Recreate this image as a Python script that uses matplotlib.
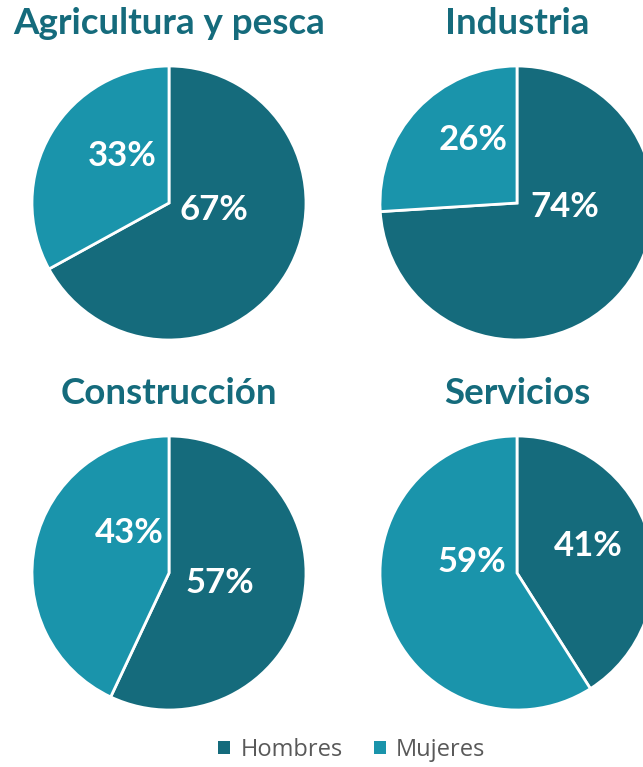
import matplotlib
matplotlib.use("Agg")
import matplotlib.pyplot as plt
from matplotlib.patches import Patch

# Datos
sectores = ["Agricultura y pesca", "Industria", "Construcción", "Servicios"]
hombres = [67, 74, 57, 41]
mujeres = [33, 26, 43, 59]
series = ["Hombres", "Mujeres"]

color_h = "#156B7C"
color_m = "#1A94AB"

W, H = 643, 767
R = 137
centros = [(169, 203), (517, 203), (169, 573), (517, 573)]
titulo_y = [23, 23, 393, 393]
# posición de las etiquetas (fracción del radio) como en el original
pos_etq = [
    [(0.33, -0.05), (-0.34, 0.34)],
    [(0.35, -0.03), (-0.32, 0.46)],
    [(0.37, -0.07), (-0.29, 0.29)],
    [(0.52, 0.20), (-0.33, 0.08)],
]

plt.rcParams['font.family'] = ['Lato', 'DejaVu Sans']
fig = plt.figure(figsize=(W / 100, H / 100), dpi=100)

for i, nombre in enumerate(sectores):
    cx, cy = centros[i]
    ax = fig.add_axes([(cx - R) / W, (H - cy - R) / H, 2 * R / W, 2 * R / H])
    wedges, _ = ax.pie([hombres[i], mujeres[i]], colors=[color_h, color_m],
                       startangle=90, counterclock=False, radius=1,
                       wedgeprops=dict(edgecolor='white', linewidth=2))
    for w in wedges:
        w.set_clip_on(False)
    for j, val in enumerate([hombres[i], mujeres[i]]):
        px, py = pos_etq[i][j]
        ax.text(px, py, f"{val}%", ha='center', va='center', color='white',
                fontsize=25, fontweight='bold')
    ax.set_xlim(-1, 1)
    ax.set_ylim(-1, 1)
    ax.set_aspect('equal')
    ax.axis('off')
    fig.text(cx / W, 1 - titulo_y[i] / H, nombre, ha='center', va='center',
             fontsize=26.5, fontweight='bold', color=color_h)

handles = [Patch(facecolor=color_h, label=series[0]),
           Patch(facecolor=color_m, label=series[1])]
fig.legend(handles=handles, loc='center', bbox_to_anchor=(352 / W, 1 - 750 / H),
           ncol=2, frameon=False, handlelength=0.5, handleheight=0.5,
           handletextpad=0.45, columnspacing=1.3,
           prop={'family': ['Open Sans', 'DejaVu Sans'], 'size': 17},
           labelcolor='#595959')

fig.savefig("out.png", dpi=100)
